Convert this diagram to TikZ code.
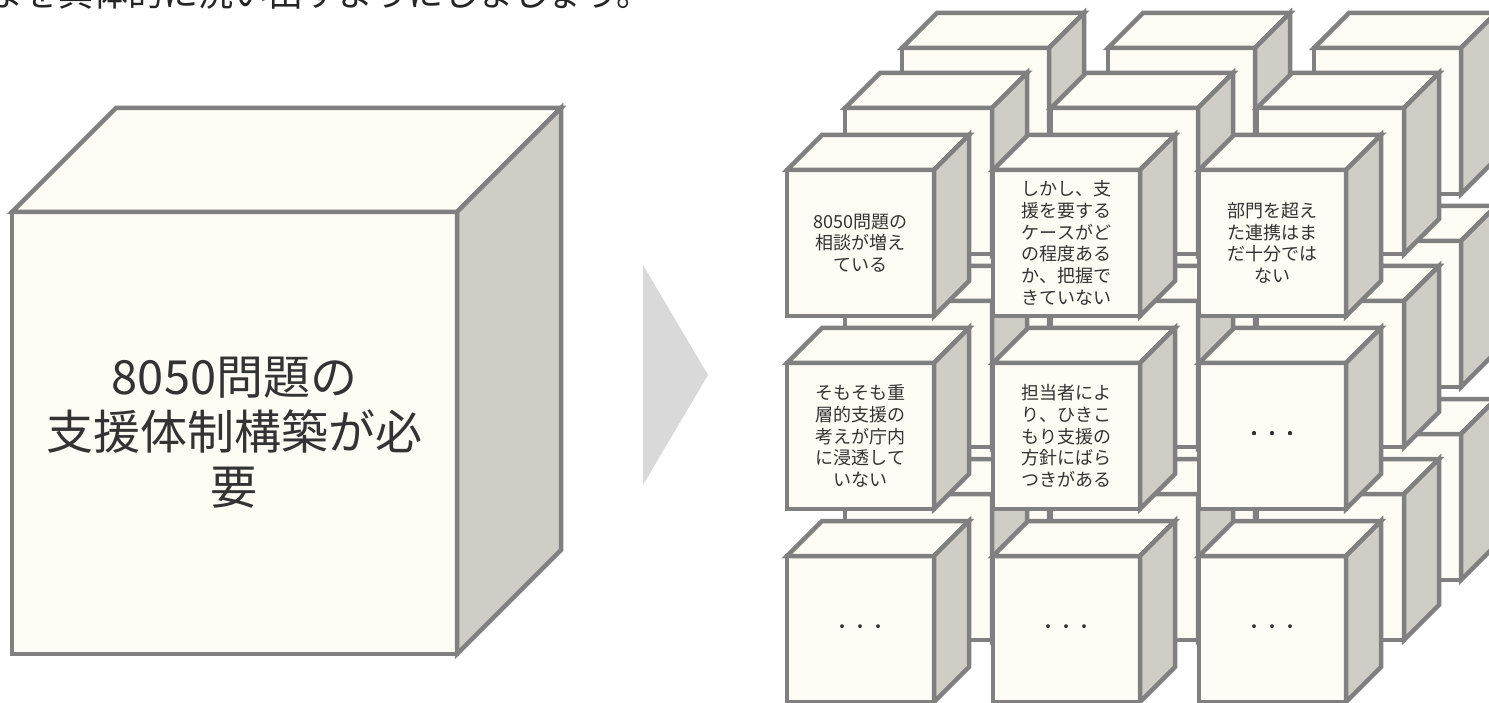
\documentclass[tikz,border=0pt]{standalone}
\usepackage{fontspec}
\setmainfont{Noto Sans CJK JP}
\definecolor{facefill}{HTML}{FEFCF5}
\definecolor{sidefill}{HTML}{CFCDC5}
\definecolor{edgegray}{HTML}{808080}
\definecolor{textgray}{HTML}{333333}
\definecolor{arrowgray}{HTML}{D9D9D9}
\tikzset{
  cubeline/.style={draw=edgegray, line width=4.5pt},
  smalltext/.style={text=textgray, align=center, inner sep=0pt, font=\fontsize{18}{21.7}\selectfont},
  bigtext/.style={text=textgray, align=center, inner sep=0pt, font=\fontsize{47}{55}\selectfont}
}
% x, y of front top-left, width, height, depth x, depth y
\newcommand{\blockcube}[6]{
  \filldraw[cubeline,fill=facefill] (#1,#2) rectangle ++(#3,#4);
  \filldraw[cubeline,fill=facefill] (#1,#2) -- ++(#5,-#6) -- ++(#3,0) -- ++(-#5,#6) -- cycle;
  \filldraw[cubeline,fill=sidefill] (#1+#3,#2) -- ++(#5,-#6) -- ++(0,#4) -- ++(-#5,#6) -- cycle;
}
\begin{document}
\begin{tikzpicture}[x=1pt,y=-1pt]
  \useasboundingbox (0,0) rectangle (1489,703);
  \clip (0,0) rectangle (1489,703);
  \node[anchor=base west, inner sep=0pt, text=black!85, font=\fontsize{35}{40}\selectfont] (lead) at (-12,7) {まを具体的に洗い出すようにしましょう。};
  \blockcube{12}{212}{445}{442}{104}{104}
  \node[bigtext] (need) at (234.5,433) {8050問題の\\支援体制構築が必\\要};
  \fill[arrowgray] (643,265) -- (708,375) -- (643,485) -- cycle;
  \foreach \ox/\oy in {115/122, 58/62, 0/0}
    \foreach \r in {0,1,2}
      \foreach \c in {0,1,2}
        \blockcube{787+\ox+206*\c}{170-\oy+193*\r}{147}{146}{35}{35}
  \node[smalltext] (etc1) at (1272.5,436) {・・・};
  \node[smalltext] (etc2) at (860.5,629) {・・・};
  \node[smalltext] (etc3) at (1066.5,629) {・・・};
  \node[smalltext] (etc4) at (1272.5,629) {・・・};
  \node[smalltext] (consult) at (860.5,243) {8050問題の\\相談が増え\\ている};
  \node[smalltext] (grasp) at (1066.5,243) {しかし、支\\援を要する\\ケースがど\\の程度ある\\か、把握で\\きていない};
  \node[smalltext] (link) at (1272.5,243) {部門を超え\\た連携はま\\だ十分では\\ない};
  \node[smalltext] (idea) at (860.5,436) {そもそも重\\層的支援の\\考えが庁内\\に浸透して\\いない};
  \node[smalltext] (policy) at (1066.5,436) {担当者によ\\り、ひきこ\\もり支援の\\方針にばら\\つきがある};
\end{tikzpicture}
\end{document}
